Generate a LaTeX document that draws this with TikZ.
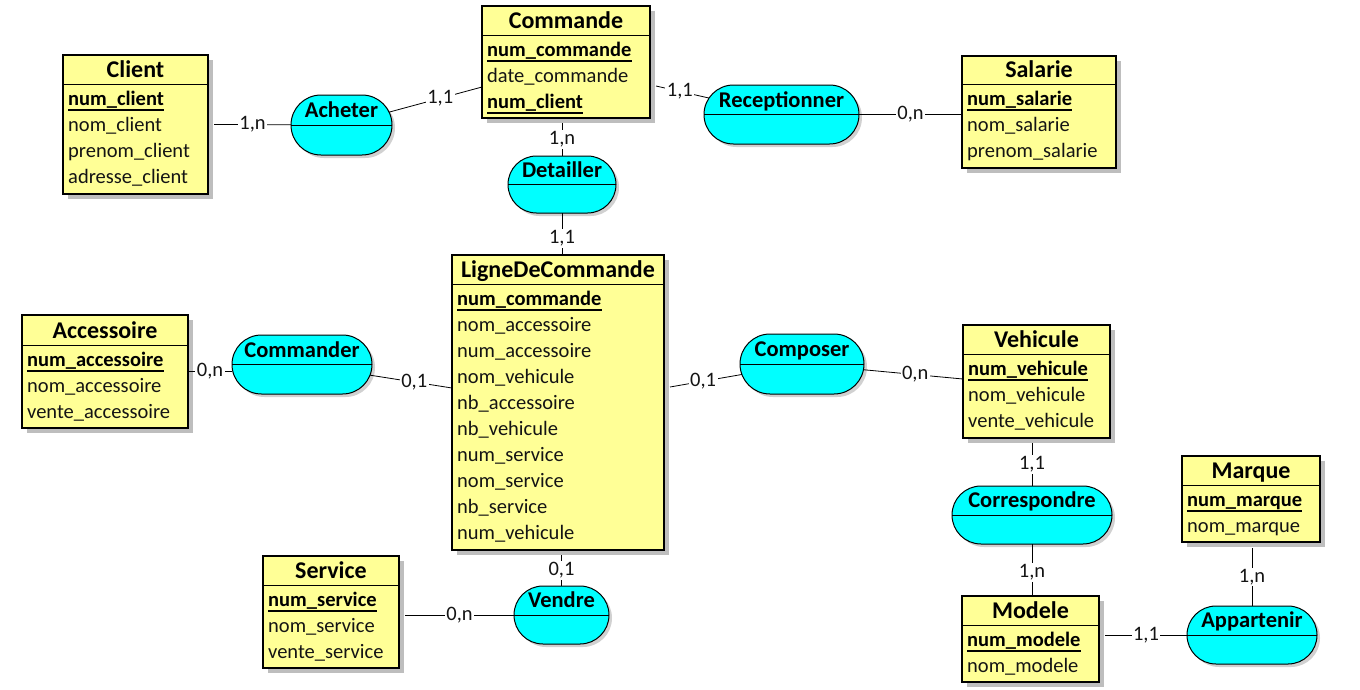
\documentclass[tikz,border=0pt]{standalone}
\usepackage{fontspec}
\setmainfont{Carlito}
\usetikzlibrary{calc,shadows,shapes.misc}
\definecolor{entfill}{RGB}{255,255,150}
\definecolor{assfill}{RGB}{0,255,255}
\definecolor{shadowgray}{RGB}{190,190,190}
\definecolor{txt}{RGB}{20,20,20}
\tikzset{
  entbox/.style={draw=black, line width=1.2pt, fill=entfill, inner sep=0pt, outer sep=0pt,
    drop shadow={shadow xshift=5pt, shadow yshift=-5pt, fill=shadowgray, opacity=1}},
  assbox/.style={rounded rectangle, draw=black, line width=1pt, fill=assfill, inner sep=0pt, outer sep=0pt,
    drop shadow={shadow xshift=3pt, shadow yshift=-3pt, fill=shadowgray!70, opacity=1}},
  divider/.style={draw=black, line width=1pt},
  enttitle/.style={font=\fontsize{24}{28}\selectfont\bfseries, inner sep=0pt, anchor=base, text=black},
  asstitle/.style={font=\fontsize{22.5}{26}\selectfont\bfseries, inner sep=0pt, anchor=base, text=black},
  attr/.style={font=\fontsize{20.5}{24}\selectfont, inner sep=0pt, anchor=base west, text=txt},
  keyattr/.style={font=\fontsize{20.5}{24}\selectfont\bfseries, inner sep=0pt, anchor=base west, text=black},
  keyline/.style={draw=black, line width=1.3pt},
  link/.style={draw=black, line width=0.8pt},
  card/.style={fill=white, inner sep=1.5pt, font=\fontsize{20.5}{24}\selectfont, text=txt},
}
\newcommand\entity[8]{%
  \node[entbox, minimum width={#4-#2}, minimum height={#5-#3}] (#1) at ({(#2+#4)/2},{(#3+#5)/2}) {};
  \draw[divider] (#1.west |- 0,#6) -- (#1.east |- 0,#6);
  \node[enttitle] (#1-title) at ({(#2+#4)/2},{#6-7}) {#7};
  \foreach [count=\i] \k/\t in {#8} {
    \ifnum\k=1
      \node[keyattr] (#1-a\i) at ({#2+5},{#6+21+26*(\i-1)}) {\t};
      \draw[keyline] ($(#1-a\i.base west)+(0,5)$) -- ($(#1-a\i.base east)+(0,5)$);
    \else
      \node[attr] (#1-a\i) at ({#2+5},{#6+21+26*(\i-1)}) {\t};
    \fi
  }
}
\newcommand\assoc[6]{%
  \node[assbox, minimum width={#4-#2}, minimum height={#5-#3}] (#1) at ({(#2+#4)/2},{(#3+#5)/2}) {};
  \draw[divider] (#1.west) -- (#1.east);
  \node[asstitle] (#1-title) at ({(#2+#4)/2},{(#3+#5)/2-7.5}) {#6};
}
\begin{document}
\begin{tikzpicture}[x=1pt,y=-1pt]
\useasboundingbox[fill=white] (0,0) rectangle (1360,689);

% entities
\entity{client}{63}{55}{208}{194}{84}{Client}{1/num\_client,0/nom\_client,0/prenom\_client,0/adresse\_client}
\entity{commande}{482}{6}{650}{118}{35}{Commande}{1/num\_commande,0/date\_commande,1/num\_client}
\entity{salarie}{962}{56}{1116}{168}{84}{Salarie}{1/num\_salarie,0/nom\_salarie,0/prenom\_salarie}
\entity{ligne}{452}{255}{664}{550}{284}{LigneDeCommande}{1/num\_commande,0/nom\_accessoire,0/num\_accessoire,0/nom\_vehicule,0/nb\_accessoire,0/nb\_vehicule,0/num\_service,0/nom\_service,0/nb\_service,0/num\_vehicule}
\entity{accessoire}{22}{315}{188}{428}{345}{Accessoire}{1/num\_accessoire,0/nom\_accessoire,0/vente\_accessoire}
\entity{vehicule}{963}{325}{1110}{438}{354}{Vehicule}{1/num\_vehicule,0/nom\_vehicule,0/vente\_vehicule}
\entity{marque}{1182}{456}{1320}{542}{485}{Marque}{1/num\_marque,0/nom\_marque}
\entity{modele}{962}{596}{1099}{682}{625}{Modele}{1/num\_modele,0/nom\_modele}
\entity{service}{263}{556}{399}{668}{585}{Service}{1/num\_service,0/nom\_service,0/vente\_service}

% associations
\assoc{acheter}{291}{95}{392}{155}{Acheter}
\assoc{receptionner}{704}{85}{859}{144}{Receptionner}
\assoc{detailler}{508}{156}{616}{213}{Detailler}
\assoc{commander}{232}{335}{372}{394}{Commander}
\assoc{composer}{740}{334}{864}{394}{Composer}
\assoc{correspondre}{952}{486}{1112}{544}{Correspondre}
\assoc{vendre}{514}{586}{609}{644}{Vendre}
\assoc{appartenir}{1187}{606}{1317}{664}{Appartenir}

% connectors
\draw[link] ($(client.east)+(6,0)$) -- node[card]{1,n} (acheter);
\draw[link] (acheter) -- node[card, pos=0.55]{1,1} ($(commande.west)+(0,25)$);
\draw[link] ($(commande.east)+(6,24)$) -- node[card, pos=0.45]{1,1} (receptionner);
\draw[link] (receptionner) -- node[card]{0,n} (receptionner -| salarie.west);
\draw[link] ($(detailler |- commande.south)+(0,5)$) -- node[card]{1,n} (detailler);
\draw[link] (detailler) -- node[card, pos=0.6]{1,1} (detailler |- ligne.north);
\draw[link] (accessoire.east) -- node[card]{0,n} (accessoire.east -| commander.west);
\draw[link] (commander) -- node[card, pos=0.54]{0,1} ($(ligne.west)+(0,-14.5)$);
\draw[link] ($(ligne.east)+(6,-15.5)$) -- node[card, pos=0.46]{0,1} (composer);
\draw[link] (composer) -- node[card, pos=0.52]{0,n} ($(vehicule.west)+(0,-2.5)$);
\draw[link] ($(correspondre |- vehicule.south)+(0,5)$) -- node[card]{1,1} (correspondre);
\draw[link] (correspondre) -- node[card, pos=0.55]{1,n} (correspondre |- modele.north);
\draw[link] ($(appartenir -| modele.east)+(6,0)$) -- node[card]{1,1} (appartenir);
\draw[link] ($(appartenir |- marque.south)+(0,6)$) -- node[card]{1,n} (appartenir);
\draw[link] ($(vendre -| service.east)+(6,0)$) -- node[card]{0,n} (vendre);
\draw[link] ($(vendre |- ligne.south)+(0,5)$) -- node[card]{0,1} (vendre);
\end{tikzpicture}
\end{document}
